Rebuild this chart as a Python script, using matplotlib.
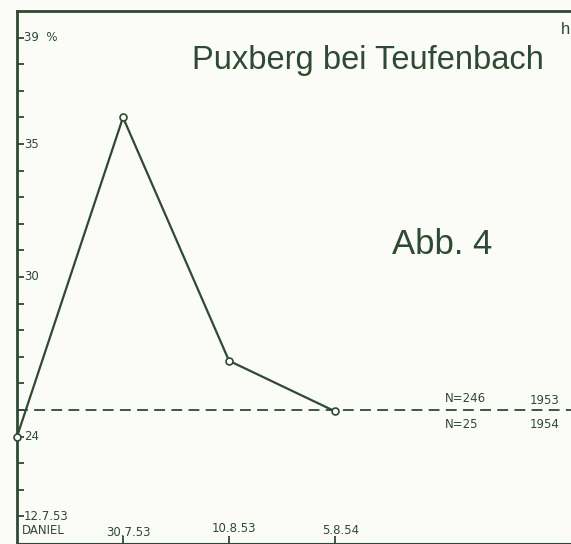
import matplotlib
matplotlib.use("Agg")
import matplotlib.pyplot as plt

# data
dates = ["12.7.53", "30.7.53", "10.8.53", "5.8.54"]
percent = [24, 36, 26.85, 24.95]
reference_level = 25
y_labels = {39: "39 %", 35: "35", 30: "30", 24: "24"}

ink = "#2f4a32"
paper = "#fbfcf7"

fig = plt.figure(figsize=(5.71, 5.44), dpi=100, facecolor=paper)
ax = fig.add_axes([17 / 571, 1 / 544, 1 - 17 / 571, 532 / 544])
ax.set_facecolor(paper)

xs = list(range(len(percent)))
ax.set_xlim(0, 5.226)
ax.set_ylim(20, 40)

# reference level (dashed)
ax.axhline(reference_level, color=ink, lw=1.3, ls=(0, (6, 3.5)), zorder=1)

ax.plot(xs, percent, color=ink, lw=1.6, marker="o", ms=5,
        mfc="white", mec=ink, mew=1.2, zorder=3, clip_on=False)

# spines
for s in ["left", "top"]:
    ax.spines[s].set_color(ink)
    ax.spines[s].set_linewidth(2.0)
ax.spines["bottom"].set_color(ink)
ax.spines["bottom"].set_linewidth(0.8)
ax.spines["right"].set_visible(False)

# ticks inward, labels drawn by hand below
ax.set_yticks(range(21, 40))
ax.set_xticks(xs[1:])
ax.tick_params(axis="both", direction="in", length=5, width=1.3, color=ink,
               labelleft=False, labelbottom=False)

font = dict(color=ink, family="DejaVu Sans", fontsize=8.5)
for v, lab in y_labels.items():
    ax.text(0.07, v, lab.replace(" ", "  "), ha="left", va="center", **font)

ax.text(0.06, 21, dates[0], ha="left", va="center", **font)
ax.text(0.05, 20.47, "DANIEL", ha="left", va="center", **font)
ax.text(1.05, 20.4, dates[1], ha="center", va="center", **font)
ax.text(2.05, 20.55, dates[2], ha="center", va="center", **font)
ax.text(3.05, 20.47, dates[3], ha="center", va="center", **font)

ax.text(4.04, 25.42, "N=246", ha="left", va="center", **font)
ax.text(4.04, 24.44, "N=25", ha="left", va="center", **font)
ax.text(4.84, 25.35, "1953", ha="left", va="center", **font)
ax.text(4.84, 24.44, "1954", ha="left", va="center", **font)

ax.text(3.31, 38.15, "Puxberg bei Teufenbach", ha="center", va="center",
        color=ink, family="Liberation Sans", fontsize=23.5)
ax.text(4.01, 31.22, "Abb. 4", ha="center", va="center",
        color=ink, family="Liberation Sans", fontsize=25)
ax.text(5.13, 39.3, "h", ha="left", va="center", color=ink,
        family="Liberation Sans", fontsize=12)

fig.savefig("out.png", dpi=100, facecolor=paper)
